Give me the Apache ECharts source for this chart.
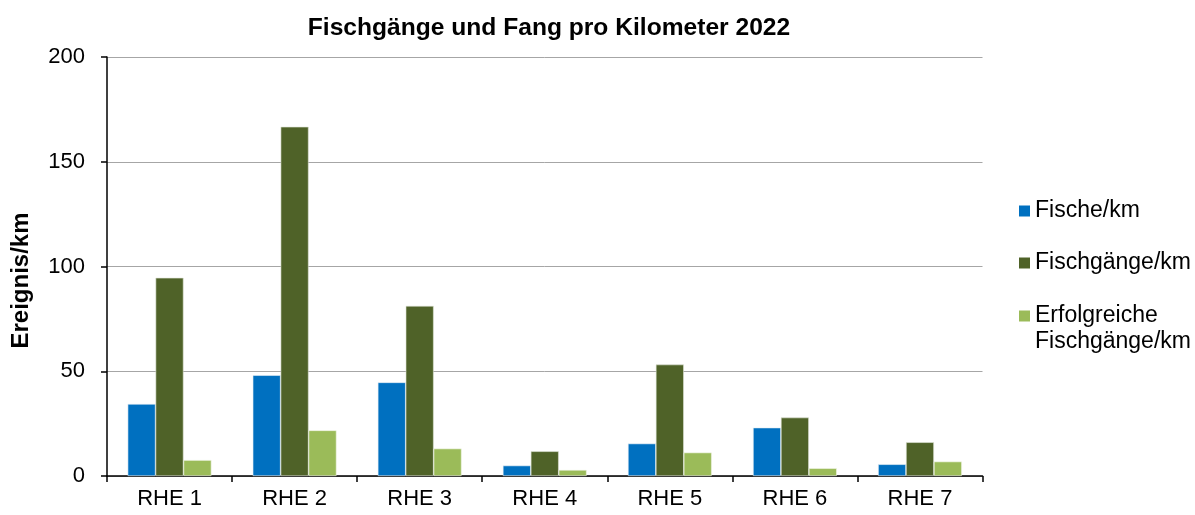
<!DOCTYPE html>
<html>
<head>
<meta charset="utf-8">
<title>Fischgänge und Fang pro Kilometer 2022</title>
<script src="https://cdn.jsdelivr.net/npm/echarts@6/dist/echarts.min.js"></script>
<style>
  html, body { margin: 0; padding: 0; background: #fff; }
  #chart { width: 1195px; height: 515px; }
</style>
</head>
<body>
<div id="chart"></div>
<script>
// Kategorien (Strecken)
var categories = ['RHE 1', 'RHE 2', 'RHE 3', 'RHE 4', 'RHE 5', 'RHE 6', 'RHE 7']
// Werte
var fischeProKm = [34.4, 48.1, 44.7, 5.0, 15.5, 23.1, 5.6]
var fischgaengeProKm = [94.6, 166.7, 81.2, 11.8, 53.2, 27.9, 16.1]
var erfolgreicheProKm = [7.6, 21.8, 13.1, 2.9, 11.2, 3.7, 6.9]

var font = '"Liberation Sans", Arial, sans-serif'

var legendText = {
  fontFamily: font,
  fontSize: 23,
  lineHeight: 26,
  color: '#000'
}

var chart = echarts.init(document.getElementById('chart'))

chart.setOption({
  animation: false,
  title: {
    text: 'Fischgänge und Fang pro Kilometer 2022',
    left: 549,
    textAlign: 'center',
    top: 16,
    padding: 0,
    textStyle: {
      fontFamily: font,
      fontSize: 24.6,
      fontWeight: 'bold',
      color: '#000'
    }
  },
  legend: [
    {
      orient: 'vertical',
      left: 1014,
      top: 193,
      itemWidth: 11,
      itemHeight: 11,
      itemGap: 26,
      icon: 'rect',
      itemStyle: { borderWidth: 0 },
      textStyle: legendText,
      data: ['Fische/km', 'Fischgänge/km']
    },
    {
      // eigene Legende, damit das Symbol neben der ersten Zeile steht
      orient: 'vertical',
      left: 1014,
      top: 272,
      itemWidth: 11,
      itemHeight: 11,
      icon: 'rect',
      itemStyle: { borderWidth: 0 },
      textStyle: legendText,
      formatter: function (name) {
        return '\n' + name.replace(' ', '\n')
      },
      data: ['Erfolgreiche Fischgänge/km']
    }
  ],
  grid: {
    left: 107,
    right: 212.5,
    top: 57,
    bottom: 39
  },
  xAxis: {
    type: 'category',
    data: categories,
    axisLine: { lineStyle: { color: '#000', width: 1.5 } },
    axisTick: { show: true, length: 6, lineStyle: { color: '#000', width: 1.5 } },
    axisLabel: {
      fontFamily: font,
      fontSize: 22,
      color: '#000',
      margin: 12
    }
  },
  yAxis: {
    type: 'value',
    min: 0,
    max: 200,
    interval: 50,
    name: 'Ereignis/km',
    nameLocation: 'middle',
    nameGap: 74,
    nameTextStyle: {
      fontFamily: font,
      fontSize: 24,
      fontWeight: 'bold',
      color: '#000',
      padding: [0, 28, 0, 0]
    },
    axisLine: { show: true, lineStyle: { color: '#000', width: 1.5 } },
    axisTick: { show: true, length: 6, lineStyle: { color: '#000', width: 1.5 } },
    axisLabel: {
      fontFamily: font,
      fontSize: 22,
      color: '#000',
      margin: 22
    },
    splitLine: {
      show: true,
      lineStyle: { color: '#A6A6A6', width: 1 }
    }
  },
  series: [
    {
      name: 'Fische/km',
      type: 'bar',
      data: fischeProKm,
      barGap: '0%',
      barCategoryGap: '33%',
      itemStyle: { color: '#0070C0', borderColor: '#E6EEF5', borderWidth: 0.6 }
    },
    {
      name: 'Fischgänge/km',
      type: 'bar',
      data: fischgaengeProKm,
      itemStyle: { color: '#4F6228', borderColor: '#DDE3D5', borderWidth: 0.6 }
    },
    {
      name: 'Erfolgreiche Fischgänge/km',
      type: 'bar',
      data: erfolgreicheProKm,
      itemStyle: { color: '#9BBB59', borderColor: '#F0F5E6', borderWidth: 0.6 }
    }
  ]
})
</script>
</body>
</html>
